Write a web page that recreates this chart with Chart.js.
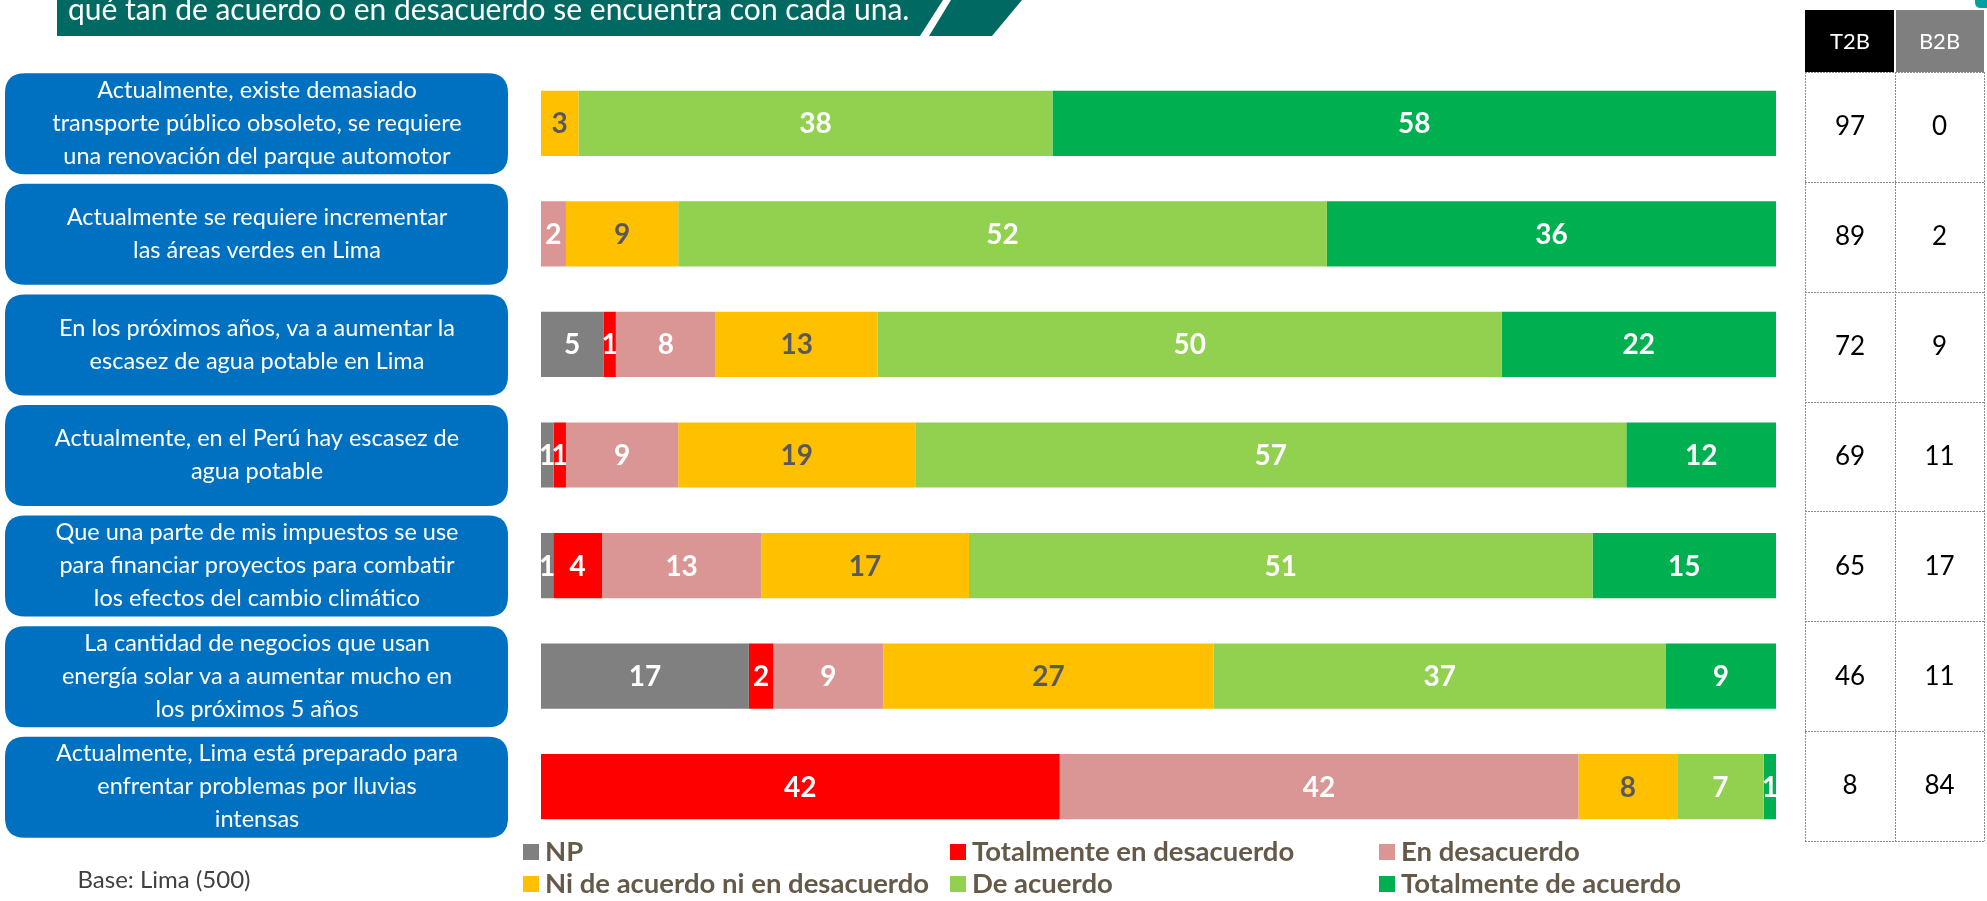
<!DOCTYPE html>
<html lang="es">
<head>
<meta charset="UTF-8">
<title>Grado de acuerdo - Lima</title>
<script src="https://cdn.jsdelivr.net/npm/chart.js"></script>
<style>
    body { margin: 0; background: #fff; }
    .lienzo { position: relative; width: 1987px; height: 901px; }
</style>
</head>
<body>
<div class="lienzo"><canvas id="grafico"></canvas></div>

<script>
    // afirmaciones (cada una ya partida en lineas como en la lamina)
    var afirmaciones = [
        ['Actualmente, existe demasiado', 'transporte público obsoleto, se requiere', 'una renovación del parque automotor'],
        ['Actualmente se requiere incrementar', 'las áreas verdes en Lima'],
        ['En los próximos años, va a aumentar la', 'escasez de agua potable en Lima'],
        ['Actualmente, en el Perú hay escasez de', 'agua potable'],
        ['Que una parte de mis impuestos se use', 'para financiar proyectos para combatir', 'los efectos del cambio climático'],
        ['La cantidad de negocios que usan', 'energía solar va a aumentar mucho en', 'los próximos 5 años'],
        ['Actualmente, Lima está preparado para', 'enfrentar problemas por lluvias', 'intensas']
    ];

    var series = ['NP', 'Totalmente en desacuerdo', 'En desacuerdo', 'Ni de acuerdo ni en desacuerdo', 'De acuerdo', 'Totalmente de acuerdo'];
    var colores = ['#808080', '#FF0000', '#D99694', '#FFC000', '#92D050', '#00B050'];

    var np = [0, 0, 5, 1, 1, 17, 0];
    var totDesacuerdo = [0, 0, 1, 1, 4, 2, 42];
    var enDesacuerdo = [0, 2, 8, 9, 13, 9, 42];
    var neutral = [3, 9, 13, 19, 17, 27, 8];
    var deAcuerdo = [38, 52, 50, 57, 51, 37, 7];
    var totAcuerdo = [58, 36, 22, 12, 15, 9, 1];

    var t2b = [97, 89, 72, 69, 65, 46, 8];
    var b2b = [0, 2, 9, 11, 17, 11, 84];

    var titulo = 'qué tan de acuerdo o en desacuerdo se encuentra con cada una.';
    var nota = 'Base: Lima (500)';

    var valores = [np, totDesacuerdo, enDesacuerdo, neutral, deAcuerdo, totAcuerdo];
    var FUENTE = 'Lato, "Open Sans", sans-serif';

    // cada barra se lleva a 100%
    var totales = afirmaciones.map(function (a, i) {
        var s = 0;
        valores.forEach(function (v) { s += v[i]; });
        return s;
    });

    var datasets = series.map(function (nombre, k) {
        return {
            label: nombre,
            data: valores[k].map(function (v, i) { return v / totales[i] * 100; }),
            crudo: valores[k],
            backgroundColor: colores[k],
            borderWidth: 0,
            barPercentage: 0.59,
            categoryPercentage: 1
        };
    });

    function cajaRedonda(ctx, x, y, w, h, r) {
        ctx.beginPath();
        ctx.moveTo(x + r, y);
        ctx.lineTo(x + w - r, y);
        ctx.quadraticCurveTo(x + w, y, x + w, y + r);
        ctx.lineTo(x + w, y + h - r);
        ctx.quadraticCurveTo(x + w, y + h, x + w - r, y + h);
        ctx.lineTo(x + r, y + h);
        ctx.quadraticCurveTo(x, y + h, x, y + h - r);
        ctx.lineTo(x, y + r);
        ctx.quadraticCurveTo(x, y, x + r, y);
        ctx.closePath();
    }

    var extras = {
        id: 'extras',
        afterDatasetsDraw: function (chart) {
            var ctx = chart.ctx;
            ctx.save();
            ctx.textAlign = 'center';
            ctx.textBaseline = 'middle';
            ctx.font = 'bold 28px ' + FUENTE;
            chart.data.datasets.forEach(function (ds, k) {
                var meta = chart.getDatasetMeta(k);
                meta.data.forEach(function (bar, i) {
                    var v = ds.crudo[i];
                    if (!v) return;
                    ctx.fillStyle = (k === 3) ? '#595959' : '#FFFFFF';
                    ctx.fillText(String(v), (bar.x + bar.base) / 2, bar.y + 1);
                });
            });
            ctx.restore();
        },
        afterDraw: function (chart) {
            var ctx = chart.ctx;
            var y = chart.scales.y;
            var paso = y.getPixelForValue(1) - y.getPixelForValue(0);
            ctx.save();

            // banda del titulo
            ctx.fillStyle = '#006A62';
            ctx.beginPath();
            ctx.moveTo(57, 0); ctx.lineTo(943, 0); ctx.lineTo(920, 36); ctx.lineTo(57, 36);
            ctx.closePath(); ctx.fill();
            ctx.beginPath();
            ctx.moveTo(951, 0); ctx.lineTo(1022, 0); ctx.lineTo(992, 36); ctx.lineTo(929, 36);
            ctx.closePath(); ctx.fill();
            cajaRedonda(ctx, 1975, -10, 20, 18, 6);
            ctx.fillStyle = '#00A0A0'; ctx.fill();
            ctx.fillStyle = '#FFFFFF';
            ctx.font = '30px ' + FUENTE;
            ctx.textAlign = 'left';
            ctx.textBaseline = 'alphabetic';
            ctx.fillText(titulo, 68, 20);

            // cajas azules con las afirmaciones
            ctx.textAlign = 'center';
            ctx.textBaseline = 'middle';
            ctx.font = '23.5px ' + FUENTE;
            afirmaciones.forEach(function (lineas, i) {
                var cy = y.getPixelForValue(i);
                cajaRedonda(ctx, 5, cy - 50, 503, 101, 20);
                ctx.fillStyle = '#0070C0';
                ctx.fill();
                ctx.fillStyle = '#FFFFFF';
                var alto = 33;
                var y0 = cy - (lineas.length - 1) * alto / 2;
                lineas.forEach(function (t, j) {
                    ctx.fillText(t, 257, y0 + j * alto);
                });
            });

            // tabla T2B / B2B
            var xs = [1805, 1895, 1984];
            ctx.fillStyle = '#000000';
            ctx.fillRect(xs[0], 10, xs[1] - xs[0] - 1, 62);
            ctx.fillStyle = '#7F7F7F';
            ctx.fillRect(xs[1] + 1, 10, xs[2] - xs[1] - 1, 62);
            ctx.fillStyle = '#FFFFFF';
            ctx.font = '22px ' + FUENTE;
            ctx.fillText('T2B', (xs[0] + xs[1]) / 2, 42);
            ctx.fillText('B2B', (xs[1] + xs[2]) / 2, 42);

            var top = 72;
            var fondo = y.getPixelForValue(afirmaciones.length - 1) + paso / 2 - 1;
            var alturaFila = (fondo - top) / afirmaciones.length;
            ctx.strokeStyle = '#8C8C8C';
            ctx.lineWidth = 1;
            ctx.setLineDash([2, 1]);
            ctx.beginPath();
            for (var r = 0; r <= afirmaciones.length; r++) {
                var ly = Math.round(top + r * alturaFila) + 0.5;
                ctx.moveTo(xs[0], ly); ctx.lineTo(xs[2], ly);
            }
            xs.forEach(function (lx) {
                ctx.moveTo(lx + 0.5, top); ctx.lineTo(lx + 0.5, fondo);
            });
            ctx.stroke();
            ctx.setLineDash([]);

            ctx.fillStyle = '#000000';
            ctx.font = '26px ' + FUENTE;
            afirmaciones.forEach(function (a, i) {
                var cy = top + (i + 0.5) * alturaFila;
                ctx.fillText(String(t2b[i]), (xs[0] + xs[1]) / 2, cy);
                ctx.fillText(String(b2b[i]), (xs[1] + xs[2]) / 2, cy);
            });

            // leyenda en tres columnas
            var colX = [523, 950, 1379];
            var filaY = [852, 884];
            ctx.textAlign = 'left';
            ctx.font = 'bold 27.5px ' + FUENTE;
            series.forEach(function (nombre, k) {
                var lx = colX[k % 3];
                var ly = filaY[Math.floor(k / 3)];
                ctx.fillStyle = colores[k];
                ctx.fillRect(lx, ly - 8, 16, 16);
                ctx.fillStyle = '#655A49';
                ctx.fillText(nombre, lx + 22, ly);
            });

            // base
            ctx.textAlign = 'center';
            ctx.fillStyle = '#404040';
            ctx.font = '24px ' + FUENTE;
            ctx.fillText(nota, 164, 880);

            ctx.restore();
        }
    };

    new Chart(document.getElementById('grafico'), {
        type: 'bar',
        data: {
            labels: afirmaciones.map(function (a) { return a.join(' '); }),
            datasets: datasets
        },
        options: {
            indexAxis: 'y',
            responsive: true,
            maintainAspectRatio: false,
            animation: false,
            layout: { padding: { left: 541, right: 211, top: 68, bottom: 59 } },
            scales: {
                x: { stacked: true, min: 0, max: 100, display: false },
                y: { stacked: true, display: false }
            },
            plugins: {
                legend: { display: false },
                tooltip: { enabled: false }
            }
        },
        plugins: [extras]
    });
</script>
</body>
</html>
